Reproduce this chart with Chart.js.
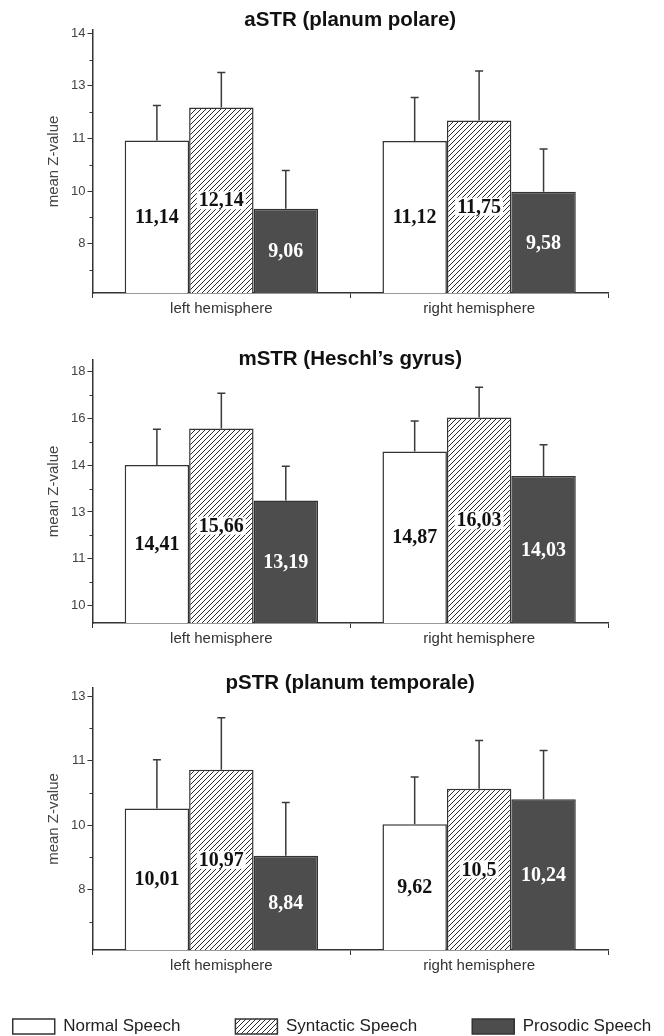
<!DOCTYPE html>
<html>
<head>
<meta charset="utf-8">
<script src="https://cdn.jsdelivr.net/npm/chart.js@4.4.1/dist/chart.umd.min.js"></script>
<style>
  body { margin: 0; background: #fff; width: 664px; height: 1036px; overflow: hidden; position: relative; }
  .panel { position: absolute; left: 0; width: 664px; }
</style>
</head>
<body>
<div class="panel" style="top:0;height:320px"><canvas id="c1"></canvas></div>
<div class="panel" style="top:330px;height:320px"><canvas id="c2"></canvas></div>
<div class="panel" style="top:650px;height:327px"><canvas id="c3"></canvas></div>
<div class="panel" style="top:963px;left:-118px;width:900px;height:100px"><canvas id="leg"></canvas></div>
<script>
// Categorias e séries
const categories = ['left hemisphere', 'right hemisphere'];
const seriesNames = ['Normal Speech', 'Syntactic Speech', 'Prosodic Speech'];

// aSTR (planum polare)
const astrNormal = [11.14, 11.12];
const astrSyntactic = [12.14, 11.75];
const astrProsodic = [9.06, 9.58];
const astrNormalErr = [1.06, 1.33];
const astrSyntacticErr = [1.07, 1.5];
const astrProsodicErr = [1.17, 1.3];
const astrTicks = [8.0, 9.6, 11.2, 12.8, 14.4];

// mSTR (Heschl's gyrus)
const mstrNormal = [14.41, 14.87];
const mstrSyntactic = [15.66, 16.03];
const mstrProsodic = [13.19, 14.03];
const mstrNormalErr = [1.22, 1.04];
const mstrSyntacticErr = [1.2, 1.04];
const mstrProsodicErr = [1.17, 1.07];
const mstrTicks = [9.6, 11.2, 12.8, 14.4, 16.0, 17.6];

// pSTR (planum temporale)
const pstrNormal = [10.01, 9.62];
const pstrSyntactic = [10.97, 10.5];
const pstrProsodic = [8.84, 10.24];
const pstrNormalErr = [1.21, 1.17];
const pstrSyntacticErr = [1.29, 1.2];
const pstrProsodicErr = [1.32, 1.21];
const pstrTicks = [8.0, 9.6, 11.2, 12.8];

Chart.defaults.font.family = '"Liberation Sans", Arial, sans-serif';
Chart.defaults.animation = false;

const INK = '#333';
const DARK = '#4d4d4d';

// Padrão tracejado (///) para a série sintática
function hatch() {
    const c = document.createElement('canvas');
    c.width = 5; c.height = 5;
    const g = c.getContext('2d');
    g.fillStyle = '#fff';
    g.fillRect(0, 0, 5, 5);
    g.strokeStyle = '#2a2a2a';
    g.lineWidth = 1;
    g.beginPath();
    g.moveTo(0, 5); g.lineTo(5, 0);
    g.moveTo(-1, 1); g.lineTo(1, -1);
    g.moveTo(4, 6); g.lineTo(6, 4);
    g.stroke();
    return g.createPattern(c, 'repeat');
}
const hatchPattern = hatch();

// Barras de erro (só para cima)
const errorBars = {
    id: 'errorBars',
    afterDatasetsDraw(chart) {
        const ctx = chart.ctx, ys = chart.scales.y;
        ctx.save();
        ctx.strokeStyle = '#3a3a3a';
        ctx.lineWidth = 1.5;
        chart.data.datasets.forEach((ds, i) => {
            chart.getDatasetMeta(i).data.forEach((bar, j) => {
                const top = ys.getPixelForValue(ds.data[j] + ds.errors[j]);
                ctx.beginPath();
                ctx.moveTo(bar.x, bar.y);
                ctx.lineTo(bar.x, top);
                ctx.moveTo(bar.x - 4, top);
                ctx.lineTo(bar.x + 4, top);
                ctx.stroke();
            });
        });
        ctx.restore();
    }
};

// Valores dentro das barras
const barLabels = {
    id: 'barLabels',
    afterDatasetsDraw(chart) {
        const ctx = chart.ctx;
        const bottom = chart.chartArea.bottom;
        ctx.save();
        ctx.font = 'bold 20px "Liberation Serif", "Times New Roman", serif';
        ctx.textAlign = 'center';
        ctx.textBaseline = 'middle';
        chart.data.datasets.forEach((ds, i) => {
            chart.getDatasetMeta(i).data.forEach((bar, j) => {
                const txt = String(ds.data[j]).replace('.', ',');
                const y = (bar.y + Math.min(bar.base, bottom)) / 2;
                if (i === 1) {
                    const w = ctx.measureText(txt).width;
                    ctx.fillStyle = '#fff';
                    ctx.fillRect(bar.x - w / 2 - 2, y - 9, w + 4, 18);
                }
                ctx.fillStyle = i === 2 ? '#fff' : '#111';
                ctx.fillText(txt, bar.x, y + 1);
            });
        });
        ctx.restore();
    }
};

// Traços menores no eixo Y
const minorTicks = {
    id: 'minorTicks',
    afterDraw(chart) {
        const s = chart.scales.y, ctx = chart.ctx;
        const vals = s.ticks.map(t => t.value);
        const step = vals[1] - vals[0];
        ctx.save();
        ctx.strokeStyle = INK;
        ctx.lineWidth = 1;
        for (let v = vals[0] - step / 2; v < s.max; v += step) {
            if (v <= s.min) continue;
            const py = Math.round(s.getPixelForValue(v)) + 0.5;
            ctx.beginPath();
            ctx.moveTo(s.right - 3, py);
            ctx.lineTo(s.right, py);
            ctx.stroke();
        }
        ctx.restore();
    }
};

function datasets(normal, syntactic, prosodic, errN, errS, errP) {
    const base = { borderColor: INK, borderWidth: 1.5, categoryPercentage: 0.75, barPercentage: 1.0 };
    return [
        Object.assign({ label: seriesNames[0], data: normal, errors: errN, backgroundColor: '#fff' }, base),
        Object.assign({ label: seriesNames[1], data: syntactic, errors: errS, backgroundColor: hatchPattern }, base),
        Object.assign({ label: seriesNames[2], data: prosodic, errors: errP, backgroundColor: DARK }, base)
    ];
}

function painel(id, titulo, sets, ticks, min, max, padTitulo) {
    new Chart(document.getElementById(id), {
        type: 'bar',
        data: { labels: categories, datasets: sets },
        options: {
            responsive: true,
            maintainAspectRatio: false,
            layout: { padding: { left: 45, right: 56, top: 0, bottom: 0 } },
            plugins: {
                legend: { display: false },
                tooltip: { enabled: false },
                title: {
                    display: true,
                    text: titulo,
                    fullSize: false,
                    color: '#111',
                    font: { size: 20.5, weight: 'bold' },
                    padding: padTitulo
                }
            },
            scales: {
                x: {
                    grid: { drawOnChartArea: false, tickLength: 5, color: INK, offset: true },
                    border: { color: INK, width: 1.5 },
                    ticks: { font: { size: 15 }, color: '#333', padding: 2 }
                },
                y: {
                    min: min,
                    max: max,
                    afterBuildTicks: s => { s.ticks = ticks.map(v => ({ value: v })); },
                    grid: { drawOnChartArea: false, tickLength: 5, color: INK },
                    border: { color: INK, width: 1.5 },
                    ticks: { font: { size: 13 }, color: '#444', padding: 2, callback: v => Math.round(v) },
                    title: { display: true, text: 'mean Z-value', font: { size: 15 }, color: '#444', padding: { top: 0, bottom: 6 } }
                }
            }
        },
        plugins: [errorBars, barLabels, minorTicks]
    });
}

painel('c1', 'aSTR (planum polare)',
    datasets(astrNormal, astrSyntactic, astrProsodic, astrNormalErr, astrSyntacticErr, astrProsodicErr),
    astrTicks, 6.5, 14.5, { top: 8, bottom: -2.6 });
painel('c2', 'mSTR (Heschl\u2019s gyrus)',
    datasets(mstrNormal, mstrSyntactic, mstrProsodic, mstrNormalErr, mstrSyntacticErr, mstrProsodicErr),
    mstrTicks, 9.0, 18.0, { top: 17, bottom: -11.6 });
painel('c3', 'pSTR (planum temporale)',
    datasets(pstrNormal, pstrSyntactic, pstrProsodic, pstrNormalErr, pstrSyntacticErr, pstrProsodicErr),
    pstrTicks, 6.5, 13.0, { top: 21, bottom: -7.6 });

// Legenda comum em baixo
new Chart(document.getElementById('leg'), {
    type: 'bar',
    data: { labels: [], datasets: datasets([], [], [], [], [], []) },
    options: {
        responsive: true,
        maintainAspectRatio: false,
        layout: { padding: 0 },
        scales: { x: { display: false }, y: { display: false } },
        plugins: {
            tooltip: { enabled: false },
            legend: {
                position: 'top',
                maxHeight: 200,
                labels: { boxWidth: 42, boxHeight: 15, padding: 55, color: '#222', font: { size: 17 } }
            }
        }
    }
});
</script>
</body>
</html>
